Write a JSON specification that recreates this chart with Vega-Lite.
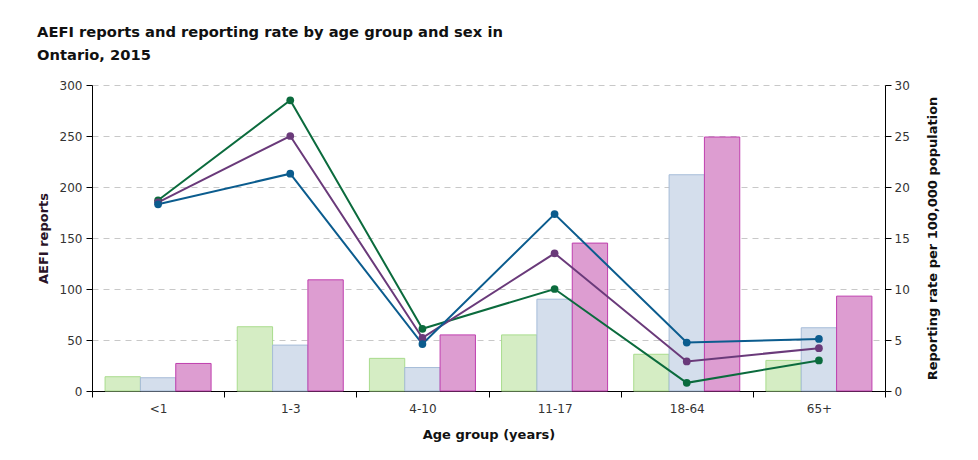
{
  "$schema": "https://vega.github.io/schema/vega-lite/v6.json",
  "width": 793,
  "height": 306,
  "autosize": {"type": "none"},
  "padding": {"left": 92, "top": 85, "right": 93, "bottom": 69},
  "background": "white",
  "title": {
    "text": ["AEFI reports and reporting rate by age group and sex in", "Ontario, 2015"],
    "anchor": "start",
    "frame": "bounds",
    "font": "DejaVu Sans",
    "fontSize": 14.7,
    "fontWeight": "bold",
    "color": "#111111",
    "lineHeight": 23,
    "offset": 16
  },
  "config": {
    "view": {"stroke": null},
    "axis": {
      "labelFont": "DejaVu Sans",
      "labelFontSize": 12,
      "labelColor": "#333333",
      "titleFont": "DejaVu Sans",
      "titleFontSize": 13,
      "titleFontWeight": "bold",
      "titleColor": "#111111",
      "domainColor": "#000000",
      "tickColor": "#000000",
      "tickSize": 6
    }
  },
  "datasets": {
    "reports": [
      {"age": "<1", "group": "Male", "reports": 14},
      {"age": "<1", "group": "Female", "reports": 13},
      {"age": "<1", "group": "Total", "reports": 27},
      {"age": "1-3", "group": "Male", "reports": 63},
      {"age": "1-3", "group": "Female", "reports": 45},
      {"age": "1-3", "group": "Total", "reports": 109},
      {"age": "4-10", "group": "Male", "reports": 32},
      {"age": "4-10", "group": "Female", "reports": 23},
      {"age": "4-10", "group": "Total", "reports": 55},
      {"age": "11-17", "group": "Male", "reports": 55},
      {"age": "11-17", "group": "Female", "reports": 90},
      {"age": "11-17", "group": "Total", "reports": 145},
      {"age": "18-64", "group": "Male", "reports": 36},
      {"age": "18-64", "group": "Female", "reports": 212},
      {"age": "18-64", "group": "Total", "reports": 249},
      {"age": "65+", "group": "Male", "reports": 30},
      {"age": "65+", "group": "Female", "reports": 62},
      {"age": "65+", "group": "Total", "reports": 93}
    ],
    "rates": [
      {"age": "<1", "idx": 1, "group": "Male rate", "rate": 18.7},
      {"age": "1-3", "idx": 2, "group": "Male rate", "rate": 28.5},
      {"age": "4-10", "idx": 3, "group": "Male rate", "rate": 6.1},
      {"age": "11-17", "idx": 4, "group": "Male rate", "rate": 10.0},
      {"age": "18-64", "idx": 5, "group": "Male rate", "rate": 0.8},
      {"age": "65+", "idx": 6, "group": "Male rate", "rate": 3.0},
      {"age": "<1", "idx": 1, "group": "Total rate", "rate": 18.5},
      {"age": "1-3", "idx": 2, "group": "Total rate", "rate": 25.0},
      {"age": "4-10", "idx": 3, "group": "Total rate", "rate": 5.2},
      {"age": "11-17", "idx": 4, "group": "Total rate", "rate": 13.5},
      {"age": "18-64", "idx": 5, "group": "Total rate", "rate": 2.9},
      {"age": "65+", "idx": 6, "group": "Total rate", "rate": 4.2},
      {"age": "<1", "idx": 1, "group": "Female rate", "rate": 18.3},
      {"age": "1-3", "idx": 2, "group": "Female rate", "rate": 21.3},
      {"age": "4-10", "idx": 3, "group": "Female rate", "rate": 4.6},
      {"age": "11-17", "idx": 4, "group": "Female rate", "rate": 17.35},
      {"age": "18-64", "idx": 5, "group": "Female rate", "rate": 4.75},
      {"age": "65+", "idx": 6, "group": "Female rate", "rate": 5.1}
    ]
  },
  "encoding": {
    "x": {
      "field": "age",
      "type": "nominal",
      "sort": ["<1", "1-3", "4-10", "11-17", "18-64", "65+"],
      "scale": {"paddingInner": 0, "paddingOuter": 0},
      "axis": {
        "title": "Age group (years)",
        "labelAngle": 0,
        "tickBand": "extent",
        "labelPadding": 6,
        "titlePadding": 14
      }
    }
  },
  "layer": [
    {
      "data": {"name": "reports"},
      "mark": {"type": "bar", "strokeWidth": 1},
      "encoding": {
        "xOffset": {
          "field": "group",
          "type": "nominal",
          "sort": ["Male", "Female", "Total"],
          "scale": {"paddingInner": 0, "paddingOuter": 0.37}
        },
        "y": {
          "field": "reports",
          "type": "quantitative",
          "scale": {"domain": [0, 300], "nice": false},
          "axis": {
            "title": "AEFI reports",
            "titleColor": "#2a1428",
            "values": [0, 50, 100, 150, 200, 250, 300],
            "grid": true,
            "gridDash": [6, 5],
            "gridColor": "#c8c8c8",
            "labelPadding": 4,
            "titlePadding": 9
          }
        },
        "fill": {
          "field": "group",
          "type": "nominal",
          "scale": {"domain": ["Male", "Female", "Total"], "range": ["#d5edc4", "#d4deec", "#dd9dd1"]},
          "legend": null
        },
        "stroke": {
          "field": "group",
          "type": "nominal",
          "scale": {"domain": ["Male", "Female", "Total"], "range": ["#a9dc8d", "#a6bcd8", "#bf3fae"]},
          "legend": null
        }
      }
    },
    {
      "data": {"name": "rates"},
      "mark": {"type": "line", "strokeWidth": 2, "point": {"size": 60, "filled": true}},
      "encoding": {
        "y": {
          "field": "rate",
          "type": "quantitative",
          "scale": {"domain": [0, 30], "nice": false},
          "axis": {
            "orient": "right",
            "title": "Reporting rate per 100,000 population",
            "titleAngle": -90,
            "values": [0, 5, 10, 15, 20, 25, 30],
            "grid": false,
            "labelPadding": 3,
            "titlePadding": 30
          }
        },
        "color": {
          "field": "group",
          "type": "nominal",
          "scale": {"domain": ["Male rate", "Total rate", "Female rate"], "range": ["#0b6b3d", "#6a3a7a", "#0b5c8e"]},
          "legend": null
        },
        "order": {"field": "idx", "type": "quantitative"}
      }
    }
  ],
  "resolve": {"scale": {"y": "independent", "color": "independent"}}
}
